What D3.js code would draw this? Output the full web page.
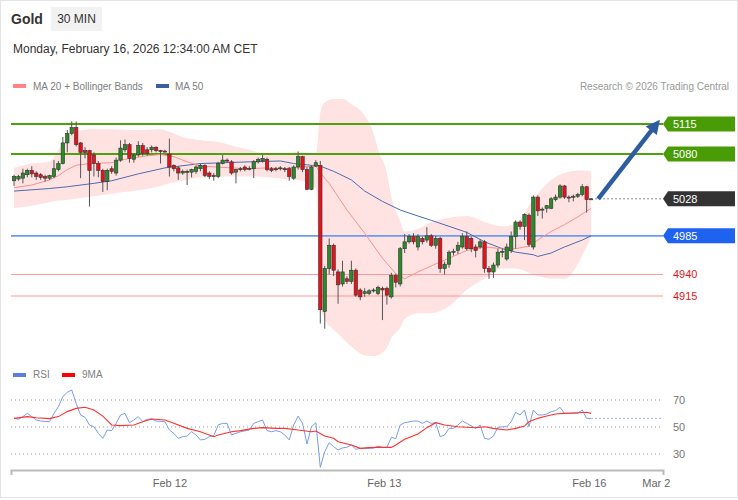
<!DOCTYPE html>
<html><head><meta charset="utf-8">
<script src="https://cdn.jsdelivr.net/npm/d3@7"></script>
<style>body{margin:0;background:#fff;} svg{display:block;font-family:"Liberation Sans",Arial,sans-serif;}</style>
</head><body><svg id="c" width="738" height="500"></svg>
<script>
// ---------- DATA ----------
const opens=[5049,5051,5052,5056,5061,5058,5056,5054,5052,5054,
5062,5069,5093,5104,5111,5093,5084,5084,5079,5069,
5061,5048,5063,5058,5073,5085,5091,5074,5079,5090,
5085,5085,5088,5084,5083.5,5080,5067,5064,5058,5060,
5059,5060,5063,5067,5058,5055,5054,5069,5073,5071,
5059,5063,5065,5063,5063,5071,5072,5074,5063,5063,
5063,5063,5063,5052,5065,5077,5062,5039,5066,5067,
4897,4947,4974,4943,4929,4935,4932,4945,4922,4918,
4918,4921,4918,4924,4924,4914,4939,4929,4970,4978,
4984,4972,4982,4980,4985,4974,4982,4947,4952,4966,
4968,4972,4984,4982,4972,4972,4978,4947,4943,4951,
4966,4958,4968,4984,5001,4996,5009,4972,5030,5015,
5017,5017,5027,5030,5043,5030,5030,5031,5033,5042,
5027];
const closes=[5054,5054,5058,5061,5057,5054,5053,5052,5055,5063,
5069,5093,5104,5111,5091,5082,5082,5061,5069,5061,
5048,5061,5060,5073,5087,5091,5075,5079,5090,5081,
5081,5088,5084,5083,5083,5065,5063,5058,5060,5059,
5062,5065,5067,5055,5054,5054,5069,5073,5072,5058,
5062,5062,5062,5063.5,5071,5074,5075,5062,5061,5062.5,
5064,5062,5054,5065,5077,5062,5039,5065,5070,4899,
4947,4974,4945,4928,4943,4932,4945,4916,4914,4920,
4921,4922,4925,4922,4916,4939,4931,4970,4978,4984,
4978,4984,4978,4985,4974,4982,4947,4952,4966,4967,
4974,4984,4970,4970,4968,4978,4947,4943,4951,4966,
4967,4972,4984,5001,4996,5010,4975,5030,5014,5016,
5020,5028,5030,5043,5030,5029,5031,5033,5042,5027,
5028];
const highs=[5056,5056,5063,5063,5066,5060,5058,5056,5056,5073,
5072,5100,5108,5118,5118,5094,5088,5085,5082,5072,
5063,5063,5066,5076,5096,5097,5093,5081,5095,5093,
5088,5090,5089,5085,5085,5098,5068,5066,5062,5062,
5063,5067,5069,5068,5060,5058,5071,5079,5075,5073,
5063,5065,5067,5066,5073,5076,5079,5076,5065,5065,
5066,5065,5065,5067,5083,5078,5065,5067,5073,5072,
4950,4982,4976,4946,4956,4938,4956,4947,4924,4924,
4923,4924,4927,4926,4926,4942,4941,4972,4987,4987,
4988,4987,4984,4995,4987,4985,4984,4955,4968,4970,
4978,4988,4990,4984,4975,4981,4980,4950,4954,4970,
4971,4976,4990,5003,5003,5011,5011,5032,5032,5018,
5021,5030,5033,5045,5044,5032,5033,5035,5045,5043,
5029];
const lows=[5043,5049,5046,5053,5053,5050,5050,5048,5050,5052,
5060,5068,5082,5102,5089,5052,5075,5019,5054,5053,
5036,5038,5057,5055,5071,5082,5070,5070,5077,5078,
5078,5082,5082,5069,5082,5054,5060,5050,5056,5044,
5053,5057,5060,5053,5051,5049,5052,5068,5070,5056,
5046,5060,5060,5061,5052,5069,5070,5060,5059,5060,
5061,5059,5049,5050,5062,5059,5038,5038,5065,4883,
4877,4940,4938,4906,4926,4929,4929,4914,4910,4914,
4916,4919,4916,4887,4905,4912,4925,4926,4965,4976,
4975,4968,4975,4977,4972,4970,4942,4940,4948,4962,
4964,4970,4968,4966,4960,4970,4942,4935,4936,4948,
4960,4956,4965,4970,4992,4980,4972,4969,5008,5005,
5012,5016,5025,5028,5028,5024,5025,5029,5031,5012,
5027];

const ma20Idx=[0,4,8,10,12,14,17,22,25,30,33,36,39,42,49,53,57,61,64,68,69,71,75,79,83,86,88,91,94,98,102,106,110,113,116,118,121,124,127,130];
const ma20Val=[5041,5044,5050,5055,5062,5067,5069,5070,5074,5078,5079.5,5077,5071,5066,5064,5063,5064,5063,5065,5066,5058,5046,5015,4988,4959,4941,4935,4943,4950,4959,4968,4972,4970,4970,4973,4980,4990,4998,5007,5017];

const ma50Idx=[0,8,12,18,22,28,34,42,53,60,63,67,69,72,76,79,83,87,91,94,98,102,106,110,113,117,118,121,124,128,130];
const ma50Val=[5037,5040,5042,5046,5049,5057,5064,5069,5071,5072,5069,5067,5066,5060,5050,5037,5025,5015,5008,5003,4996,4989,4978,4970,4966,4963,4961,4965,4972,4980,4985];

const bbIdx=[0,4,8,10,12,14,18,22,28,33,35,38,42,46,49,53,57,61,64,68,69,70,72,74,76,79,81,82,84,85,87,88,91,94,98,102,106,110,113,117,121,124,127,128,130];
const bbUpper=[5064,5069,5071,5085,5100,5107,5109,5109,5108,5109,5106,5100,5096,5094,5090,5085,5080,5081,5083,5080,5128,5140,5144,5144,5138,5125,5104,5085,5058,5030,5002,4990,4993,5001,5006,5008,5001,4996,4999,5028,5050,5058,5061,5061,5060];
const bbLower=[5017,5020,5024,5026,5027,5028,5031,5034,5038,5043,5046,5049,5053,5054,5054,5054,5053,5051,5050,5040,4905,4888,4876,4866,4856,4846,4845,4846,4855,4866,4878,4888,4895,4895,4903,4922,4935,4947,4947,4940,4935,4935,4952,4962,4983];

const rsiIdx=[0,1,2,3,4,5,6,8,9,10,11,12,13,14,15,16,17,18,19,20,21,22,23,24,25,26,27,28,29,30,31,32,34,35,36,37,38,39,40,41,42,43,44,45,46,47,48,49,50,51,53,54,55,56,57,58,59,60,61,62,63,64,65,66,67,68,69,70,71,72,73,74,75,76,77,78,80,81,82,83,84,85,86,87,88,90,91,92,93,94,95,96,97,98,99,100,101,102,104,105,106,107,108,109,110,111,112,113,114,115,116,117,118,119,120,121,122,123,124,125,126,127,128,129,130];
const rsiVal=[56.4,55.7,57.7,60.1,57.7,55.2,54.4,53.9,60.1,65.1,72.5,75.7,77.4,67.5,58.9,57.2,51.5,50.2,45.3,41.6,47.8,47.3,52.7,58.9,60.1,53.2,55.2,57.7,54,55.7,56,54.4,53.9,47.8,45.3,41.6,42.8,43.3,46.5,44.1,40.4,40.9,42.8,43.6,51.5,52.7,52.7,44.1,45.3,46.5,47.8,52.7,53.9,55.2,47.3,46.5,47.3,46.5,44.1,40.4,51.5,58.1,52.7,37.4,50.2,53.2,20.1,31.7,38.4,35.4,33,34.5,35,36.7,33.5,34.2,34.2,34.4,35.9,34.9,34.9,42.4,41.4,51.5,53.2,54.4,54.4,52.7,54.4,52.7,53.2,42.8,44.1,49,49,51.5,54.4,52.7,49,51.5,41.6,40.9,43.3,49.8,50.2,50.2,53.9,60.9,58.9,62.6,50.2,62.6,58.9,58.9,59.6,61.4,62.1,64.6,60.1,60.1,60.1,60.1,62.6,56.4,56.4];

const rsiMaIdx=[0,3,5,8,10,12,14,16,18,20,22,24,27,29,31,34,36,39,42,45,46,49,51,54,56,59,61,64,67,68,70,72,73,76,78,80,82,85,86,88,91,93,95,97,100,102,104,106,108,111,113,115,116,118,120,122,124,127,129,130];
const rsiMaVal=[56.4,57.7,56.9,56.2,57.7,61.4,63.8,64.6,62.6,58.1,51.5,51,51.5,53.9,55.9,55.2,52.7,49,46.5,42.8,44.1,46.5,47.3,49,49.5,49,49,47.8,46.5,47,43.3,41.6,39.1,36.7,34.2,34.7,34.9,34.9,36.7,40.9,44.8,49.5,53.2,51.5,50.2,49.8,49.5,50.2,49,47.8,49,50.7,53.9,56.4,58.1,59.6,60.1,60.6,60.9,60.1];

const resistance=[5115,5080];
const lastPrice=5028;
const pivot=4985;
const supports=[4940,4915];
const target=5120;            // arrow points to just above 5115
const arrowFromIdx=131.6, arrowToIdx=145.5;

const xTickIdx=[35,83.3,129.5,144.6];
const xTickLabels=["Feb 12","Feb 13","Feb 16","Mar 2"];
const rsiTicks=[30,50,70];

// ---------- DRAW ----------
const svg=d3.select("#c");
const x=d3.scaleLinear().domain([-0.68,146.2]).range([11,663]);
const y=d3.scaleLinear().domain([4840,5150]).range([360.5,93.9]);
const yr=d3.scaleLinear().domain([20,80]).range([467.5,386.5]);

svg.append("rect").attr("x",0.5).attr("y",0.5).attr("width",737).attr("height",497)
  .attr("fill","#fff").attr("stroke","#e4e4e4");

// header
svg.append("text").attr("x",11).attr("y",24).attr("font-size",14).attr("font-weight","bold").attr("fill","#333").text("Gold");
svg.append("rect").attr("x",51).attr("y",7).attr("width",51).attr("height",24).attr("fill","#f2f2f2");
svg.append("text").attr("x",76.5).attr("y",23).attr("text-anchor","middle").attr("font-size",12).attr("fill","#333").text("30 MIN");
svg.append("text").attr("x",13).attr("y",53).attr("font-size",12).attr("fill","#333").text("Monday, February 16, 2026 12:34:00 AM CET");

// legend
svg.append("rect").attr("x",13).attr("y",84).attr("width",13).attr("height",4).attr("fill","#ff8585");
svg.append("text").attr("x",33).attr("y",90).attr("font-size",10).attr("fill","#808080").text("MA 20 + Bollinger Bands");
svg.append("rect").attr("x",156).attr("y",84).attr("width",13).attr("height",4).attr("fill","#3a5f9e");
svg.append("text").attr("x",175).attr("y",90).attr("font-size",10).attr("fill","#808080").text("MA 50");
svg.append("text").attr("x",729).attr("y",90).attr("text-anchor","end").attr("font-size",10).attr("fill","#999").text("Research © 2026 Trading Central");

// bollinger band
const bb=bbIdx.map((d,i)=>({i:d,u:bbUpper[i],l:bbLower[i]}));
svg.append("path").datum(bb)
  .attr("d",d3.area().x(d=>x(d.i)).y0(d=>y(d.l)).y1(d=>y(d.u)).curve(d3.curveMonotoneX))
  .attr("fill","#ffe3e3");

// level lines
const x0=x.range()[0], x1=x.range()[1];
resistance.forEach(v=>{
  svg.append("line").attr("x1",x0).attr("x2",x1).attr("y1",y(v)).attr("y2",y(v)).attr("stroke","#4ea10c").attr("stroke-width",2);
});
svg.append("line").attr("x1",x0).attr("x2",x1).attr("y1",y(pivot)).attr("y2",y(pivot)).attr("stroke","#6b9bf2").attr("stroke-width",1.8);
supports.forEach(v=>{
  svg.append("line").attr("x1",x0).attr("x2",x1).attr("y1",y(v)).attr("y2",y(v)).attr("stroke","#ff9a9a").attr("stroke-width",1.2);
});

// MA lines
const line=d3.line().x(d=>x(d[0])).y(d=>y(d[1]));
svg.append("path").datum(ma50Idx.map((d,i)=>[d,ma50Val[i]])).attr("d",line).attr("fill","none").attr("stroke","#4a6db0").attr("stroke-width",1);
svg.append("path").datum(ma20Idx.map((d,i)=>[d,ma20Val[i]])).attr("d",line).attr("fill","none").attr("stroke","#ff8f8f").attr("stroke-width",1);

// candles
const cw=3.4;
const g=svg.append("g");
opens.forEach((o,i)=>{
  const c=closes[i], up=c>=o;
  g.append("line").attr("x1",x(i)).attr("x2",x(i)).attr("y1",y(highs[i])).attr("y2",y(lows[i])).attr("stroke","#555").attr("stroke-width",1);
  const top=y(Math.max(o,c)), h=Math.max(1,Math.abs(y(o)-y(c)));
  g.append("rect").attr("x",x(i)-cw/2).attr("y",top).attr("width",cw).attr("height",h)
    .attr("fill",up?"#2a8a2a":"#e8101a").attr("stroke","#333").attr("stroke-width",0.6);
});

// last price dotted
svg.append("line").attr("x1",x(opens.length-1)+4).attr("x2",x1).attr("y1",y(lastPrice)).attr("y2",y(lastPrice))
  .attr("stroke","#888").attr("stroke-width",1).attr("stroke-dasharray","2,2");

// tags
function tag(v,fill){
  const yc=y(v);
  svg.append("path").attr("d",`M${x1},${yc}L${x1+5},${yc-7.5}H735V${yc+7.5}H${x1+5}Z`).attr("fill",fill);
  svg.append("text").attr("x",673).attr("y",yc).attr("dy","0.36em").attr("font-size",11).attr("fill","#fff").text(v);
}
resistance.forEach(v=>tag(v,"#4a9c06"));
tag(lastPrice,"#333");
tag(pivot,"#1f62ef");
supports.forEach(v=>{
  svg.append("text").attr("x",673).attr("y",y(v)).attr("dy","0.36em").attr("font-size",11).attr("fill","#e8141c").text(v);
});

// arrow
(function(){
  const ax=x(arrowFromIdx), ay=y(lastPrice), bx=x(arrowToIdx), by=y(target);
  const dx=bx-ax, dy=by-ay, L=Math.hypot(dx,dy), ux=dx/L, uy=dy/L;
  const hl=14, hw=7;
  const baseX=bx-ux*hl, baseY=by-uy*hl;
  svg.append("line").attr("x1",ax).attr("y1",ay).attr("x2",baseX+ux*2).attr("y2",baseY+uy*2)
    .attr("stroke","#2d5d9f").attr("stroke-width",4.5);
  svg.append("path").attr("d",`M${bx},${by}L${baseX-uy*hw},${baseY+ux*hw}L${baseX+uy*hw},${baseY-ux*hw}Z`).attr("fill","#2d5d9f");
})();

// RSI panel
svg.append("rect").attr("x",13).attr("y",373).attr("width",13).attr("height",4).attr("fill","#5b7fe0");
svg.append("text").attr("x",33).attr("y",378).attr("font-size",10).attr("fill","#808080").text("RSI");
svg.append("rect").attr("x",62).attr("y",373).attr("width",13).attr("height",4).attr("fill","#f00");
svg.append("text").attr("x",82).attr("y",378).attr("font-size",10).attr("fill","#808080").text("9MA");

rsiTicks.forEach(t=>{
  svg.append("line").attr("x1",x0).attr("x2",x1).attr("y1",yr(t)).attr("y2",yr(t))
    .attr("stroke","#999").attr("stroke-width",1).attr("stroke-dasharray","1,3");
  svg.append("text").attr("x",673).attr("y",yr(t)).attr("dy","0.36em").attr("font-size",11).attr("fill","#777").text(t);
});
const rline=d3.line().x(d=>x(d[0])).y(d=>yr(d[1]));
svg.append("path").datum(rsiIdx.map((d,i)=>[d,rsiVal[i]])).attr("d",rline).attr("fill","none").attr("stroke","#7c9ce8").attr("stroke-width",1);
const lastR=rsiVal[rsiVal.length-1], lastRi=rsiIdx[rsiIdx.length-1];
svg.append("line").attr("x1",x(lastRi)).attr("x2",x1).attr("y1",yr(lastR)).attr("y2",yr(lastR))
  .attr("stroke","#9db5f0").attr("stroke-width",1).attr("stroke-dasharray","2,2");
svg.append("path").datum(rsiMaIdx.map((d,i)=>[d,rsiMaVal[i]])).attr("d",rline).attr("fill","none").attr("stroke","#ff3030").attr("stroke-width",1.1);

// x axis
const axis=d3.axisBottom(x).tickValues(xTickIdx).tickFormat((d,i)=>xTickLabels[i]).tickSizeInner(0).tickSizeOuter(5).tickPadding(9);
const ga=svg.append("g").attr("transform","translate(0,470)").call(axis);
ga.select(".domain").attr("stroke","#bbb").attr("stroke-width",2);
ga.selectAll("text").attr("font-size",11).attr("fill","#666").attr("font-family","Liberation Sans, Arial, sans-serif");
</script></body></html>
